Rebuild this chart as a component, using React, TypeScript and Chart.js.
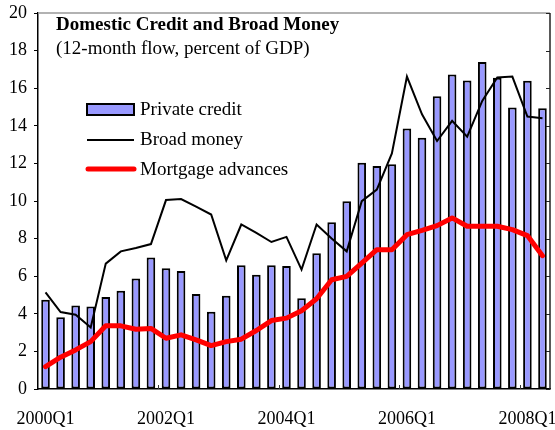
import React, { useEffect, useRef } from 'react';
import { Chart, registerables } from 'chart.js';

Chart.register(...registerables);

const quarters = [
  '2000Q1', '2000Q2', '2000Q3', '2000Q4',
  '2001Q1', '2001Q2', '2001Q3', '2001Q4',
  '2002Q1', '2002Q2', '2002Q3', '2002Q4',
  '2003Q1', '2003Q2', '2003Q3', '2003Q4',
  '2004Q1', '2004Q2', '2004Q3', '2004Q4',
  '2005Q1', '2005Q2', '2005Q3', '2005Q4',
  '2006Q1', '2006Q2', '2006Q3', '2006Q4',
  '2007Q1', '2007Q2', '2007Q3', '2007Q4',
  '2008Q1', '2008Q2',
];
const tickLabels = ['2000Q1', '2002Q1', '2004Q1', '2006Q1', '2008Q1'];

const privateCredit = [
  4.75, 3.82, 4.44, 4.39, 4.89, 5.23, 5.88, 6.99,
  6.42, 6.28, 5.05, 4.11, 4.96, 6.58, 6.08, 6.58,
  6.54, 4.83, 7.22, 8.87, 9.99, 12.04, 11.86, 11.96,
  13.85, 13.37, 15.57, 16.73, 16.41, 17.4, 16.55, 14.97,
  16.39, 14.93,
];
const broadMoney = [
  5.14, 4.09, 3.95, 3.27, 6.67, 7.32, 7.5, 7.71,
  10.05, 10.1, 9.7, 9.28, 6.84, 8.75, 8.3, 7.82,
  8.09, 6.35, 8.75, 8.0, 7.32, 9.99, 10.61, 12.53,
  16.62, 14.61, 13.19, 14.26, 13.42, 15.32, 16.57, 16.62,
  14.49, 14.4,
];
const mortgageAdvances = [
  1.19, 1.69, 2.08, 2.52, 3.36, 3.36, 3.18, 3.22,
  2.7, 2.88, 2.61, 2.31, 2.52, 2.65, 3.11, 3.64,
  3.77, 4.16, 4.8, 5.81, 5.99, 6.7, 7.41, 7.41,
  8.21, 8.44, 8.69, 9.1, 8.66, 8.66, 8.66, 8.48,
  8.16, 7.09,
];

const titleText = 'Domestic Credit and Broad Money';
const subtitleText = '(12-month flow, percent of GDP)';
const legendLabels = ['Private credit', 'Broad money', 'Mortgage advances'];

const SERIF = '"Liberation Serif", "Times New Roman", Times, serif';
const BAR_FILL = '#9999FF';

Chart.defaults.font.family = SERIF;

const decorPlugin = {
  id: 'decor',
  afterDraw(chart: any) {
    const { ctx, chartArea } = chart;
    const { left, right, top, bottom } = chartArea;
    const y = chart.scales.y;
    ctx.save();

    // top border (gray) and right border (dark)
    ctx.lineWidth = 1.5;
    ctx.strokeStyle = '#999999';
    ctx.beginPath();
    ctx.moveTo(left, top);
    ctx.lineTo(right, top);
    ctx.stroke();
    ctx.strokeStyle = '#222222';
    ctx.beginPath();
    ctx.moveTo(right, top);
    ctx.lineTo(right, bottom);
    ctx.stroke();

    // right axis inward ticks
    ctx.lineWidth = 1;
    y.ticks.forEach((t: any) => {
      const py = Math.round(y.getPixelForValue(t.value)) + 0.5;
      ctx.beginPath();
      ctx.moveTo(right - 4, py);
      ctx.lineTo(right, py);
      ctx.stroke();
    });

    // x axis inward ticks at category boundaries of labelled quarters
    const step = (right - left) / quarters.length;
    ctx.strokeStyle = '#333333';
    quarters.forEach((q, i) => {
      if (i > 0 && tickLabels.includes(q)) {
        const px = Math.round(left + i * step) + 0.5;
        ctx.beginPath();
        ctx.moveTo(px, bottom);
        ctx.lineTo(px, bottom - 4);
        ctx.stroke();
      }
    });

    // title
    ctx.fillStyle = '#000';
    ctx.textBaseline = 'middle';
    ctx.textAlign = 'left';
    ctx.font = `bold 19px ${SERIF}`;
    ctx.fillText(titleText, 56, 25);
    ctx.font = `19px ${SERIF}`;
    ctx.fillText(subtitleText, 56, 49);

    // legend
    ctx.fillStyle = BAR_FILL;
    ctx.fillRect(87, 104, 47, 11);
    ctx.lineWidth = 2;
    ctx.strokeStyle = '#000';
    ctx.strokeRect(87, 104, 47, 11);

    ctx.lineWidth = 2;
    ctx.beginPath();
    ctx.moveTo(87, 140);
    ctx.lineTo(134, 140);
    ctx.stroke();

    ctx.lineWidth = 5;
    ctx.lineCap = 'round';
    ctx.strokeStyle = '#FF0000';
    ctx.beginPath();
    ctx.moveTo(88, 169);
    ctx.lineTo(134, 169);
    ctx.stroke();

    ctx.fillStyle = '#000';
    ctx.font = `19px ${SERIF}`;
    ctx.fillText(legendLabels[0], 140, 110);
    ctx.fillText(legendLabels[1], 140, 140);
    ctx.fillText(legendLabels[2], 140, 170);

    ctx.restore();
  },
};

export default function App() {
  const ref = useRef<HTMLCanvasElement | null>(null);

  useEffect(() => {
    if (!ref.current) return;
    const chart = new Chart(ref.current, {
      type: 'bar',
      data: {
        labels: quarters,
        datasets: [
          {
            type: 'line',
            label: legendLabels[2],
            data: mortgageAdvances,
            borderColor: '#FF0000',
            borderWidth: 5,
            pointRadius: 0,
            tension: 0,
            borderJoinStyle: 'round',
            borderCapStyle: 'round',
            order: 1,
          } as any,
          {
            type: 'line',
            label: legendLabels[1],
            data: broadMoney,
            borderColor: '#000000',
            borderWidth: 2,
            pointRadius: 0,
            tension: 0,
            order: 2,
          } as any,
          {
            type: 'bar',
            label: legendLabels[0],
            data: privateCredit,
            backgroundColor: BAR_FILL,
            borderColor: '#000000',
            borderWidth: 2,
            borderSkipped: false,
            categoryPercentage: 1,
            barPercentage: 0.57,
            order: 3,
          } as any,
        ],
      },
      options: {
        animation: false,
        responsive: false,
        devicePixelRatio: 1,
        layout: { padding: { top: 13, right: 5, left: 0, bottom: 0 } },
        plugins: {
          legend: { display: false },
          title: { display: false },
          tooltip: { enabled: false },
        },
        scales: {
          x: {
            offset: true,
            grid: { display: false, drawTicks: false },
            border: { display: true, color: '#000', width: 1.5 },
            ticks: {
              autoSkip: false,
              maxRotation: 0,
              minRotation: 0,
              padding: 19,
              color: '#000',
              font: { family: SERIF, size: 18 },
              callback: (_v: any, i: number) =>
                tickLabels.includes(quarters[i]) ? quarters[i] : '',
            },
            afterFit: (s: any) => {
              s.height = 41;
              s.paddingLeft = 0;
              s.paddingRight = 0;
            },
          },
          y: {
            min: 0,
            max: 20,
            grid: {
              display: true,
              drawOnChartArea: false,
              drawTicks: true,
              tickLength: 4,
              color: '#000',
              lineWidth: 1,
            },
            border: { display: true, color: '#000', width: 1.5 },
            ticks: {
              stepSize: 2,
              padding: 7,
              color: '#000',
              font: { family: SERIF, size: 18 },
            },
            afterFit: (s: any) => {
              s.width = 38;
              s.paddingTop = 0;
              s.paddingBottom = 0;
            },
          },
        },
      },
      plugins: [decorPlugin],
    });
    return () => chart.destroy();
  }, []);

  return (
    <div style={{ position: 'fixed', left: 0, top: 0, width: 555, height: 430, background: '#fff' }}>
      <canvas ref={ref} width={555} height={430} style={{ width: 555, height: 430 }} />
    </div>
  );
}
